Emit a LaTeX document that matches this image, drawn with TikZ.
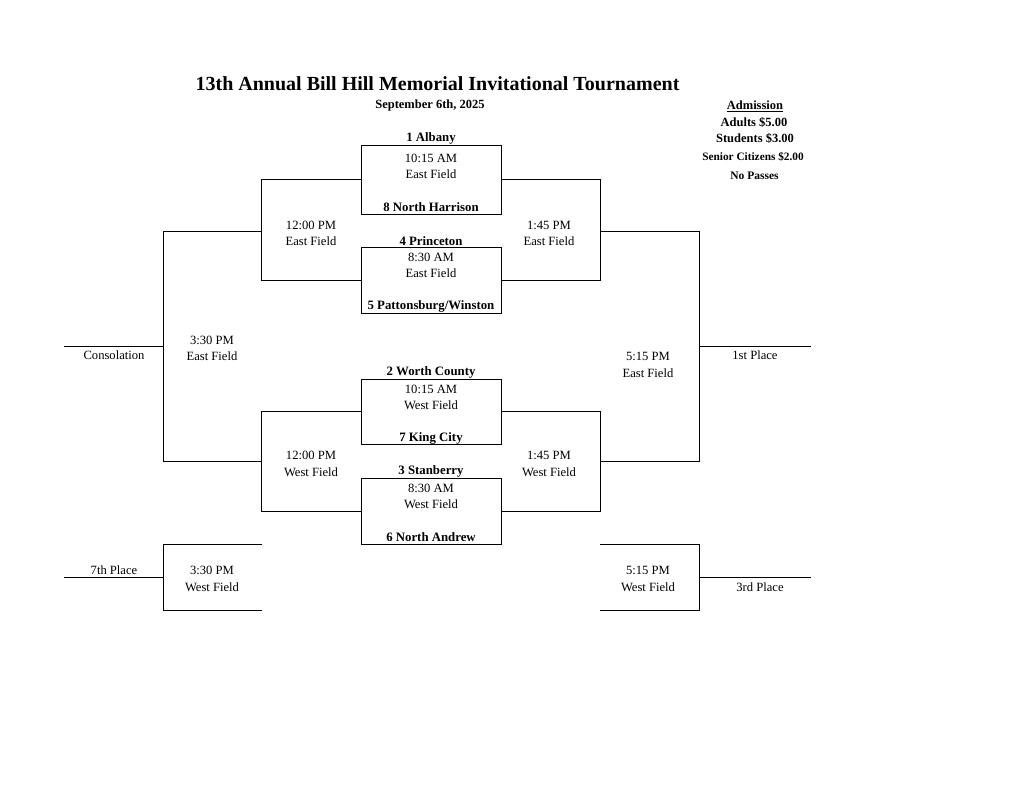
\documentclass[tikz,border=0pt]{standalone}
\usepackage{fontspec}
\setmainfont{Liberation Serif}
\usetikzlibrary{positioning}

\begin{document}
\begin{tikzpicture}[x=1pt,y=-1pt,
    bline/.style={draw,line width=0.8pt},
    gamebox/.style={draw,line width=0.8pt,minimum width=140pt,inner sep=0pt},
    team/.style={font=\fontsize{12.8}{14}\selectfont\bfseries,inner sep=0pt,yshift=-1.5pt},
    info/.style={font=\fontsize{12.6}{16.5}\selectfont,inner sep=0pt,align=center,yshift=-1.5pt}]
    \useasboundingbox (0,0) rectangle (1024,791);

    % Heading
    \node[font=\fontsize{20}{22}\selectfont\bfseries] (title) at (437.5,84) {13th Annual Bill Hill Memorial Invitational Tournament};
    \node[team,font=\fontsize{12.5}{13}\selectfont\bfseries] (date) at (430,104) {September 6th, 2025};

    % Admission
    \node[team,font=\fontsize{12.5}{13}\selectfont\bfseries] (adm) at (755,105) {\underline{Admission}};
    \node[team,font=\fontsize{12.5}{13}\selectfont\bfseries] (adults) at (754,121) {Adults \$5.00};
    \node[team,font=\fontsize{12.5}{13}\selectfont\bfseries] (students) at (755,137) {Students \$3.00};
    \node[team,font=\fontsize{11.3}{12}\selectfont\bfseries] (seniors) at (753,155) {Senior Citizens \$2.00};
    \node[team,font=\fontsize{11.5}{12}\selectfont\bfseries] (nopass) at (754.5,174) {No Passes};

    % First round games
    \node[gamebox,minimum height=69pt] (g1) at (431,179.5) {};
    \node[team] (t1) at (431,137) {1 Albany};
    \node[info] at (431,165) {10:15 AM\\East Field};
    \node[team] (t8) at (431,206) {8 North Harrison};

    \node[gamebox,minimum height=66pt] (g2) at (431,280) {};
    \node[team] (t4) at (431,240) {4 Princeton};
    \node[info] at (431,264) {8:30 AM\\East Field};
    \node[team] (t5) at (431,305) {5 Pattonsburg/Winston};

    \node[gamebox,minimum height=65pt] (g3) at (431,411.5) {};
    \node[team] (t2) at (431,371) {2 Worth County};
    \node[info] at (431,396) {10:15 AM\\West Field};
    \node[team] (t7) at (431,437) {7 King City};

    \node[gamebox,minimum height=66pt] (g4) at (431,511) {};
    \node[team] (t3) at (431,470) {3 Stanberry};
    \node[info] at (431,495) {8:30 AM\\West Field};
    \node[team] (t6) at (431,536) {6 North Andrew};

    % Second round
    \draw[bline] (g1.west) -- ++(-99,0) |- (g2.west);
    \draw[bline] (g1.east) -- ++(99,0) |- (g2.east);
    \draw[bline] (g3.west) -- ++(-99,0) |- (g4.west);
    \draw[bline] (g3.east) -- ++(99,0) |- (g4.east);
    \node[info] at (311,232) {12:00 PM\\East Field};
    \node[info] at (549,232) {1:45 PM\\East Field};
    \node[info] at (311,462.5) {12:00 PM\\West Field};
    \node[info] at (549,462.5) {1:45 PM\\West Field};

    % Finals
    \coordinate (semiL) at (262,231);
    \coordinate (semiLb) at (262,461);
    \coordinate (semiR) at (600,231);
    \coordinate (semiRb) at (600,461);
    \coordinate (consEnd) at (64,346);
    \coordinate (firstEnd) at (811,346);
    \draw[bline] (semiL) -- ++(-99,0) |- (semiLb);
    \draw[bline] (semiR) -- ++(99,0) |- (semiRb);
    \draw[bline] (163,346) -- (consEnd);
    \draw[bline] (699,346) -- (firstEnd);
    \node[info] at (212,347) {3:30 PM\\East Field};
    \node[info] at (648,363.5) {5:15 PM\\East Field};
    \node[info] (cons) at (114,354) {Consolation};
    \node[info] (first) at (755,354) {1st Place};

    % Placement games
    \coordinate (sevA) at (262,544);
    \coordinate (sevB) at (262,610);
    \coordinate (thrA) at (600,544);
    \coordinate (thrB) at (600,610);
    \coordinate (sevEnd) at (64,577);
    \coordinate (thrEnd) at (811,577);
    \draw[bline] (sevA) -- ++(-99,0) |- (sevB);
    \draw[bline] (thrA) -- ++(99,0) |- (thrB);
    \draw[bline] (163,577) -- (sevEnd);
    \draw[bline] (699,577) -- (thrEnd);
    \node[info] at (212,577.5) {3:30 PM\\West Field};
    \node[info] at (648,577.5) {5:15 PM\\West Field};
    \node[info] (seventh) at (114,569) {7th Place};
    \node[info] (third) at (760,586) {3rd Place};
\end{tikzpicture}
\end{document}
